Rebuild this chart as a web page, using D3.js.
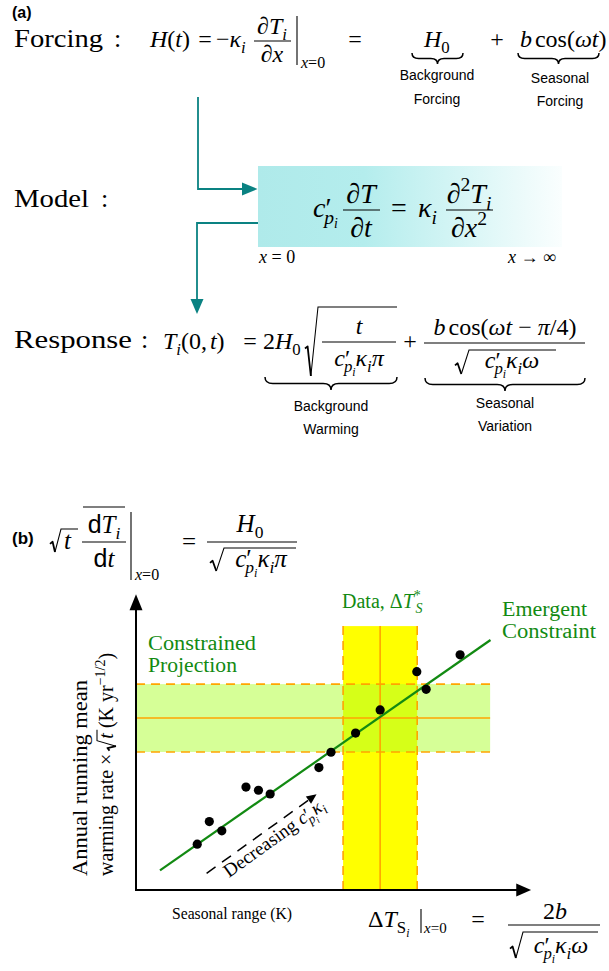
<!DOCTYPE html>
<html><head><meta charset="utf-8">
<script src="https://cdn.jsdelivr.net/npm/d3@7"></script>
<style>
html,body{margin:0;padding:0;background:#fff;}
svg text{white-space:pre;}
</style></head>
<body>
<svg id="c" width="609" height="971" xmlns="http://www.w3.org/2000/svg"></svg>
<script>
// ---------------- DATA (panel b, arbitrary units 0-100 on both axes) ----------------
const seasonalRange = [15.7, 18.8, 22.0, 28.2, 31.4, 34.4, 46.9, 50.0, 56.3, 62.6, 74.4, 72.0, 83.1];
const warmingRate   = [15.8, 23.6, 20.4, 35.5, 34.4, 33.1, 42.2, 47.5, 54.1, 62.1, 69.2, 75.3, 81.1];
const fitX = [6.15, 90.9];
const fitY = [6.8, 86.2];
const observedRange = [53.1, 62.6, 72.1];     // low, best, high (x)
const observedTop = 91.0;
const projectedRate = [47.6, 59.3, 71.0];     // low, best, high (y)
const projectedRight = 90.8;
const decreasingArrowX = [18.1, 46.3];
const decreasingArrowY = [5.76, 33.0];

const SERIF = "Liberation Serif, Times New Roman, DejaVu Serif, serif";
const SANS = "Liberation Sans, Arial, Helvetica, sans-serif";
const TEAL = "#0a8282";
const GREEN = "#128a12";
const ORANGE = "#ffa500";

const svg = d3.select('#c');
const defs = svg.append('defs');
const grad = defs.append('linearGradient').attr('id','boxg').attr('x1','0').attr('x2','1').attr('y1','0').attr('y2','0');
grad.append('stop').attr('offset','0').attr('stop-color','#afeaea');
grad.append('stop').attr('offset','0.35').attr('stop-color','#b4eded');
grad.append('stop').attr('offset','1').attr('stop-color','#fafefe');

// ---------------- tiny math typesetter ----------------
function parseMath(str, size, shift, out, mode){
  let i = 0;
  const grab = () => {
    if (str[i] === '{'){
      let d = 1, j = i + 1;
      while (j < str.length && d){ if (str[j] === '{') d++; else if (str[j] === '}') d--; j++; }
      const g = str.slice(i + 1, j - 1); i = j; return g;
    }
    const g = str[i]; i++; return g;
  };
  while (i < str.length){
    const c = str[i];
    if (c === '_' || c === '^'){
      i++; const g = grab();
      parseMath(g, size * 0.7, c === '_' ? shift + size * 0.24 : shift - size * 0.42, out, mode);
      continue;
    }
    if (c === '\\'){
      const m = str[i + 1]; i += 2; const g = grab();
      parseMath(g, size, shift, out, m === 'r' ? 'rm' : 'sf');
      continue;
    }
    if (c === '~'){ out.push({kern: -0.26 * size}); i++; continue; }
    if (c === '`'){ out.push({kern: 0.12 * size}); i++; continue; }
    const ital = mode === 'it' && /[A-Za-z\u03b1-\u03c9]/.test(c);
    out.push({t: c, it: ital, sf: mode === 'sf', size, shift});
    i++;
  }
  return out;
}
function math(g, x, y, str, size, anchor, color){
  const runs = parseMath(str, size, 0, [], 'it');
  const t = g.append('text').attr('x', x).attr('y', y)
    .attr('text-anchor', anchor || 'start').attr('fill', color || '#000')
    .attr('font-family', SERIF).style('font-family', SERIF);
  let cur = 0, kern = 0;
  for (const r of runs){
    if (r.kern !== undefined){ kern += r.kern; continue; }
    const fam = r.sf ? SANS : SERIF;
    const ts = t.append('tspan').text(r.t).attr('font-size', r.size)
      .attr('font-family', fam).style('font-family', fam)
      .attr('font-style', r.it ? 'italic' : 'normal').style('font-style', r.it ? 'italic' : 'normal');
    if (r.shift !== cur){ ts.attr('dy', r.shift - cur); cur = r.shift; }
    if (kern){ ts.attr('dx', kern); kern = 0; }
  }
  return t;
}
function label(g, x, y, str, size, len, opts){
  opts = opts || {};
  const fam = opts.font || SERIF;
  const t = g.append('text').attr('x', x).attr('y', y).text(str)
    .attr('font-size', size).attr('font-family', fam).style('font-family', fam)
    .attr('fill', opts.color || '#000').attr('text-anchor', opts.anchor || 'start');
  if (opts.bold) t.attr('font-weight', 'bold');
  if (len) t.attr('textLength', len).attr('lengthAdjust', 'spacingAndGlyphs');
  return t;
}
function hline(g, x0, x1, y, sw){
  g.append('line').attr('x1', x0).attr('x2', x1).attr('y1', y).attr('y2', y)
    .attr('stroke', '#000').attr('stroke-width', sw || 1.1);
}
function vline(g, x, y0, y1, sw){
  g.append('line').attr('x1', x).attr('x2', x).attr('y1', y0).attr('y2', y1)
    .attr('stroke', '#000').attr('stroke-width', sw || 1.1);
}
function brace(g, x0, x1, y0, h){
  const xm = (x0 + x1) / 2, q = Math.min(h * 0.6, (x1 - x0) / 4), ym = y0 + h / 2;
  const d = `M${x0},${y0} Q${x0},${ym} ${x0 + q},${ym} L${xm - q},${ym} Q${xm},${ym} ${xm},${y0 + h} ` +
            `Q${xm},${ym} ${xm + q},${ym} L${x1 - q},${ym} Q${x1},${ym} ${x1},${y0}`;
  g.append('path').attr('d', d).attr('fill', 'none').attr('stroke', '#000').attr('stroke-width', 1.5);
}
function radical(g, x0, xs, yTop, yBot, x1){
  const h = yBot - yTop, ym = yBot - h * 0.42;
  const xb = x0 + (xs - x0) * 0.45;
  g.append('path').attr('d', `M${x0},${ym + 1.5} L${x0 + 2.6},${ym - 0.6} L${xb},${yBot}`)
    .attr('fill', 'none').attr('stroke', '#000').attr('stroke-width', 1.8).attr('stroke-linejoin', 'round');
  g.append('path').attr('d', `M${xb},${yBot} L${xs},${yTop} L${x1},${yTop}`)
    .attr('fill', 'none').attr('stroke', '#000').attr('stroke-width', 1.05);
}

// ================= PANEL (a) =================
const A = svg.append('g');
label(A, 12, 18, '(a)', 16, null, {font: SANS, bold: true});

// Forcing row
label(A, 14, 47, 'Forcing', 26, 89);
label(A, 114, 47, ':', 26);
math(A, 150, 47, 'H(t)', 24);
math(A, 205, 47, '=', 24, 'middle');
math(A, 216, 47, '−κ_i', 24);
math(A, 272, 34, '∂T_i', 24, 'middle');
hline(A, 254, 291, 41);
math(A, 272, 62, '∂x', 24, 'middle');
vline(A, 297, 16, 65);
math(A, 301, 68, 'x=0', 16);
math(A, 355, 47, '=', 24, 'middle');
math(A, 424, 47, 'H_0', 24);
brace(A, 412, 463, 53, 11);
math(A, 497, 47, '+', 24, 'middle');
math(A, 520, 47, 'b`\\r{cos}(ωt)', 24);
brace(A, 518, 599, 53, 11);
label(A, 437, 80, 'Background', 14, null, {font: SANS, anchor: 'middle'});
label(A, 437, 104, 'Forcing', 14, null, {font: SANS, anchor: 'middle'});
label(A, 560, 83, 'Seasonal', 14, null, {font: SANS, anchor: 'middle'});
label(A, 560, 106, 'Forcing', 14, null, {font: SANS, anchor: 'middle'});

// flow arrows
A.append('path').attr('d', 'M198,97 V189 H243').attr('fill', 'none').attr('stroke', TEAL).attr('stroke-width', 1.8);
A.append('path').attr('d', 'M242,182.5 L257.5,189 L242,195.5 Z').attr('fill', TEAL);
A.append('path').attr('d', 'M259,223 H197 V300').attr('fill', 'none').attr('stroke', TEAL).attr('stroke-width', 1.8);
A.append('path').attr('d', 'M190.5,299 L197,314 L203.5,299 Z').attr('fill', TEAL);

// Model row
label(A, 14, 207, 'Model', 26, 75);
label(A, 101, 207, ':', 26);
A.append('rect').attr('x', 258).attr('y', 166).attr('width', 304).attr('height', 81).attr('fill', 'url(#boxg)');
math(A, 313, 217, 'c′~_{p_i}', 28);
math(A, 361, 203, '∂T', 28, 'middle');
hline(A, 343, 380, 210);
math(A, 361, 237, '∂t', 28, 'middle');
math(A, 399, 217, '=', 28, 'middle');
math(A, 418, 217, 'κ_i', 28);
math(A, 469, 203, '∂^2T_i', 28, 'middle');
hline(A, 446, 493, 210);
math(A, 469, 237, '∂x^2', 28, 'middle');
math(A, 259, 263, 'x = 0', 18);
math(A, 508, 263, 'x \u2192 \u221e', 18);

// Response row
label(A, 14, 348, 'Response', 26, 118);
label(A, 141, 348, ':', 26);
math(A, 163, 349, 'T_i(0,`t)', 24);
math(A, 250, 349, '=', 24, 'middle');
math(A, 263, 349, '2H_0', 24);
radical(A, 305, 318, 307, 376, 397);
math(A, 359, 334, 't', 24, 'middle');
hline(A, 322, 396, 342);
math(A, 359, 366, 'c′~_{p_i}κ_iπ', 24, 'middle');
math(A, 410, 349, '+', 24, 'middle');
math(A, 505, 335, 'b`\\r{cos}(ωt − π/4)', 24, 'middle');
hline(A, 424, 585, 343);
radical(A, 455, 469, 350, 374, 556);
math(A, 512, 368, 'c′~_{p_i}κ_iω', 24, 'middle');
brace(A, 265, 397, 377, 13);
brace(A, 425, 585, 378, 13);
label(A, 331, 411, 'Background', 14, null, {font: SANS, anchor: 'middle'});
label(A, 331, 434, 'Warming', 14, null, {font: SANS, anchor: 'middle'});
label(A, 505, 408, 'Seasonal', 14, null, {font: SANS, anchor: 'middle'});
label(A, 505, 431, 'Variation', 14, null, {font: SANS, anchor: 'middle'});

// ================= PANEL (b) header =================
const B = svg.append('g');
label(B, 12, 544, '(b)', 17, null, {font: SANS, bold: true});
radical(B, 50, 61, 529, 552, 78);
math(B, 64, 549, 't', 25);
hline(B, 83, 125, 507);
math(B, 104, 533, '\\s{d}T_i', 25, 'middle');
hline(B, 82, 126, 542);
math(B, 104, 567, '\\s{d}t', 25, 'middle');
vline(B, 131, 512, 580);
math(B, 135, 580, 'x=0', 16);
math(B, 189, 550, '=', 25, 'middle');
math(B, 250, 532, 'H_0', 25, 'middle');
hline(B, 207, 297, 542);
radical(B, 210, 224, 548, 571, 296);
math(B, 261, 567, 'c′~_{p_i}κ_iπ', 25, 'middle');

// ================= PANEL (b) chart =================
const x = d3.scaleLinear().domain([0, 100]).range([136, 526]);
const y = d3.scaleLinear().domain([0, 100]).range([890, 600]);
const C = svg.append('g');

// observed data band (yellow)
C.append('rect').attr('x', x(observedRange[0])).attr('y', y(observedTop))
  .attr('width', x(observedRange[2]) - x(observedRange[0])).attr('height', y(0) - y(observedTop))
  .attr('fill', '#ffff00');
// constrained projection band (semi transparent green-yellow)
C.append('rect').attr('x', x(0)).attr('y', y(projectedRate[2]))
  .attr('width', x(projectedRight) - x(0)).attr('height', y(projectedRate[0]) - y(projectedRate[2]))
  .attr('fill', '#adff2f').attr('fill-opacity', 0.5);
// orange lines
[0, 2].forEach(k => {
  C.append('line').attr('x1', x(observedRange[k])).attr('x2', x(observedRange[k]))
    .attr('y1', y(observedTop)).attr('y2', y(0))
    .attr('stroke', ORANGE).attr('stroke-width', 1.6).attr('stroke-dasharray', '9,6');
  C.append('line').attr('x1', x(0)).attr('x2', x(projectedRight))
    .attr('y1', y(projectedRate[k])).attr('y2', y(projectedRate[k]))
    .attr('stroke', ORANGE).attr('stroke-width', 1.6).attr('stroke-dasharray', '9,6');
});
C.append('line').attr('x1', x(observedRange[1])).attr('x2', x(observedRange[1]))
  .attr('y1', y(observedTop)).attr('y2', y(0)).attr('stroke', ORANGE).attr('stroke-width', 1.6);
C.append('line').attr('x1', x(0)).attr('x2', x(projectedRight))
  .attr('y1', y(projectedRate[1])).attr('y2', y(projectedRate[1])).attr('stroke', ORANGE).attr('stroke-width', 1.6);

// emergent constraint line
C.append('line').attr('x1', x(fitX[0])).attr('y1', y(fitY[0])).attr('x2', x(fitX[1])).attr('y2', y(fitY[1]))
  .attr('stroke', GREEN).attr('stroke-width', 2.2);

// model points
C.selectAll('circle.pt').data(seasonalRange).enter().append('circle').attr('class', 'pt')
  .attr('cx', d => x(d)).attr('cy', (d, i) => y(warmingRate[i])).attr('r', 4.6).attr('fill', '#000');

// decreasing arrow
const ax0 = x(decreasingArrowX[0]), ay0 = y(decreasingArrowY[0]);
const ax1 = x(decreasingArrowX[1]), ay1 = y(decreasingArrowY[1]);
const ang = Math.atan2(ay1 - ay0, ax1 - ax0);
const hl = 10;
C.append('line').attr('x1', ax0).attr('y1', ay0)
  .attr('x2', ax1 - hl * Math.cos(ang)).attr('y2', ay1 - hl * Math.sin(ang))
  .attr('stroke', '#000').attr('stroke-width', 1.5).attr('stroke-dasharray', '11,8');
C.append('path').attr('d', `M0,0 L${-hl},${-4.5} L${-hl},${4.5} Z`).attr('fill', '#000')
  .attr('transform', `translate(${ax1},${ay1}) rotate(${ang * 180 / Math.PI})`);
const dg = C.append('g').attr('transform', `translate(229,878) rotate(${ang * 180 / Math.PI})`);
math(dg, 0, 0, '\\r{Decreasing} c′~_{p_i}κ_i', 19);

// axes
C.append('line').attr('x1', x(0)).attr('x2', x(0)).attr('y1', y(0) + 1).attr('y2', y(98)).attr('stroke', '#000').attr('stroke-width', 2);
C.append('path').attr('d', `M${x(0) - 6.5},${y(96.5)} L${x(0)},${y(102)} L${x(0) + 6.5},${y(96.5)} Z`).attr('fill', '#000');
C.append('line').attr('x1', x(0) - 1).attr('x2', x(99)).attr('y1', y(0)).attr('y2', y(0)).attr('stroke', '#000').attr('stroke-width', 2);
C.append('path').attr('d', `M${x(97.5)},${y(0) - 6.5} L${x(101.3)},${y(0)} L${x(97.5)},${y(0) + 6.5} Z`).attr('fill', '#000');

// chart labels
math(C, 342, 608, '\\r{Data,} \\r{\u0394}T^{*}~_S', 20, 'start', GREEN);
label(C, 502, 616, 'Emergent', 20, 85, {color: GREEN});
label(C, 502, 638, 'Constraint', 20, 94, {color: GREEN});
label(C, 148, 650, 'Constrained', 20, 108, {color: GREEN});
label(C, 148, 672, 'Projection', 20, 89, {color: GREEN});
label(C, 172, 919, 'Seasonal range (K)', 17, 120);

// y label (rotated)
const yl1 = C.append('g').attr('transform', 'translate(87,876) rotate(-90)');
label(yl1, 0, 0, 'Annual running mean', 21, 196);
const yl2 = C.append('g').attr('transform', 'translate(113,876) rotate(-90)');
let cx = 0;
const p1 = label(yl2, cx, 0, 'warming rate \u00d7', 20);
cx += p1.node().getComputedTextLength() + 3;
radical(yl2, cx, cx + 10, -16, 3, cx + 21);
cx += 12;
const p2 = math(yl2, cx, 0, 't', 20);
cx += p2.node().getComputedTextLength() + 5;
math(yl2, cx, 0, '\\r{(K yr}^{\u22121/2}\\r{)}', 20);

// bottom formula
math(C, 368, 927, '\\r{\u0394}T_{\\r{S}_i}', 24);
vline(C, 421, 909, 933);
math(C, 424, 933, 'x=0', 15);
math(C, 478, 927, '=', 24, 'middle');
math(C, 555, 919, '2b', 24, 'middle');
hline(C, 508, 600, 925);
radical(C, 510, 523, 932, 958, 598);
math(C, 561, 953, 'c′~_{p_i}κ_iω', 24, 'middle');
</script>
</body></html>
